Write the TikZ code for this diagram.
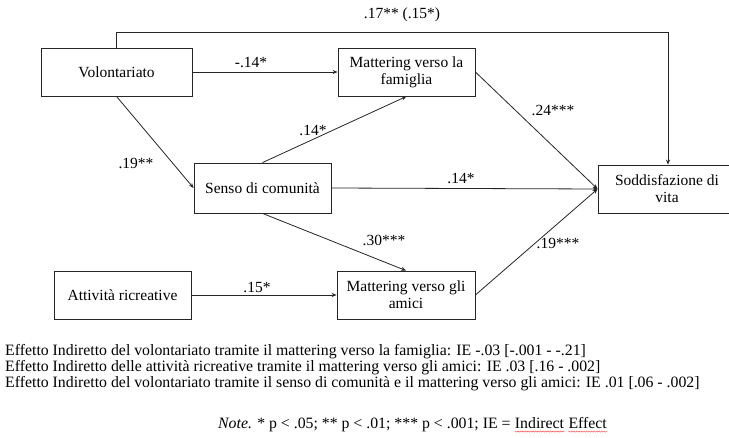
\documentclass[tikz,border=0pt]{standalone}
\usepackage{fontspec}
\setmainfont{Liberation Serif}
\usetikzlibrary{arrows.meta,decorations.pathmorphing}
\begin{document}
\begin{tikzpicture}[x=1pt,y=-1pt,
  box/.style={draw=black!85,line width=0.8pt,minimum height=48pt,inner sep=0pt,align=center,font=\fontsize{15.5}{17}\selectfont},
  lbl/.style={font=\fontsize{15.5}{17}\selectfont,inner sep=0pt},
  arr/.style={draw=black!85,line width=0.8pt,-{Stealth[length=5pt,width=4pt]}},
  foot/.style={font=\fontsize{15.8}{17}\selectfont,inner sep=0pt,anchor=west},
  note/.style={font=\fontsize{15.8}{17}\selectfont,inner sep=0pt},
  squig/.style={draw=red!75,line width=0.4pt,decorate,decoration={snake,amplitude=0.6pt,segment length=2.5pt}}]
\useasboundingbox[fill=white] (0,0) rectangle (729,438);
\node[box,minimum width=151pt] (vol) at (116.5,72) {Volontariato};
\node[box,minimum width=137pt] (mf) at (406.5,72) {Mattering verso la\\famiglia};
\node[box,minimum width=137pt,minimum height=50pt] (sc) at (262.5,188) {Senso di comunità};
\node[box,minimum width=137pt] (ar) at (122.5,295) {Attività ricreative};
\node[box,minimum width=138pt] (ma) at (406,295) {Mattering verso gli\\amici};
\node[box,minimum width=138pt] (sv) at (667,189) {Soddisfazione di\\vita};
\coordinate (c1) at (116.5,32);
\coordinate (c2) at (668,32);
\draw[arr] (vol.north) -- (c1) -- (c2) -- (sv.north -| c2);
\draw[arr] (vol.east) -- (mf.west);
\draw[arr] (vol.south) -- (sc.west);
\draw[arr] (sc.north) -- (mf.south);
\draw[arr] (sc.east) -- (sv.west);
\draw[arr] (sc.south) -- (ma.north);
\draw[arr] (ar.east) -- (ma.west);
\draw[arr] (mf.east) -- (sv.west);
\draw[arr] (ma.east) -- (sv.west);
\node[lbl] (l1) at (402,15) {.17** (.15*)};
\node[lbl] (l2) at (251,62) {-.14*};
\node[lbl] (l3) at (136,163) {.19**};
\node[lbl] (l4) at (313,130) {.14*};
\node[lbl] (l5) at (553,110) {.24***};
\node[lbl] (l6) at (461,178) {.14*};
\node[lbl] (l7) at (384,240) {.30***};
\node[lbl] (l8) at (558,243) {.19***};
\node[lbl] (l9) at (257,287) {.15*};
\node[foot] (f1) at (5,352) {Effetto Indiretto del volontariato tramite il mattering verso la famiglia: IE -.03 [-.001 - -.21]};
\node[foot] (f2) at (5,368) {Effetto Indiretto delle attività ricreative tramite il mattering verso gli amici: IE .03 [.16 - .002]};
\node[foot] (f3) at (5,384) {Effetto Indiretto del volontariato tramite il senso di comunità e il mattering verso gli amici: IE .01 [.06 - .002]};
\node[note,anchor=west] (f4) at (218,425) {\textit{Note.} * p < .05; ** p < .01; *** p < .001; IE =};
\node[note,anchor=base west] (f5) at ([xshift=4pt]f4.base east) {Indirect};
\node[note,anchor=base west] (f6) at ([xshift=4pt]f5.base east) {Effect};
\draw[squig] ([yshift=-3pt]f5.base west) -- ([yshift=-3pt]f5.base east);
\draw[squig] ([yshift=-3pt]f6.base west) -- ([yshift=-3pt]f6.base east);
\end{tikzpicture}
\end{document}
